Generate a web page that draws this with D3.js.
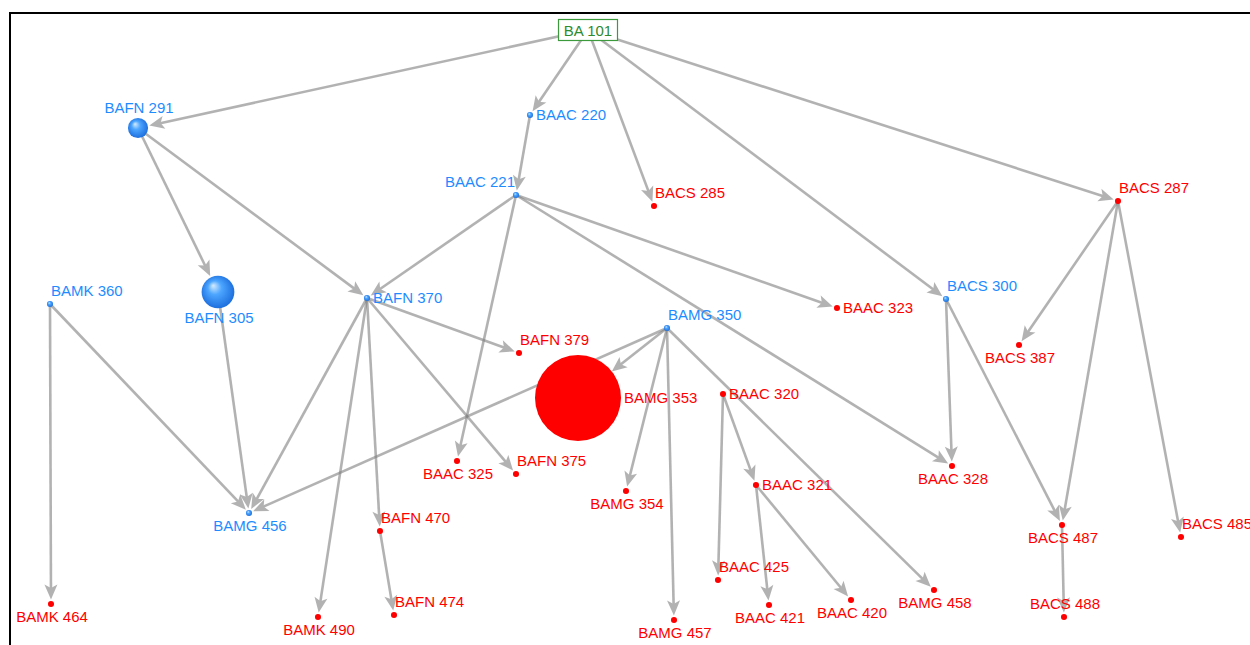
<!DOCTYPE html>
<html>
<head>
<meta charset="utf-8">
<script src="https://cdn.jsdelivr.net/npm/d3@7"></script>
<style>
  body { margin: 0; background: #fff; }
  svg { display: block; font-family: "Liberation Sans", Arial, sans-serif; }
</style>
</head>
<body>
<div id="chart"></div>
<script>
// node data: name, layout position, weight and status (blue = active, red = inactive)
var nodeNames = ["BA 101", "BAFN 291", "BAFN 305", "BAAC 220", "BAAC 221", "BACS 285", "BACS 287",
    "BAMK 360", "BAFN 370", "BACS 300", "BAMG 350", "BAAC 323", "BAFN 379", "BACS 387", "BAMG 353",
    "BAAC 320", "BAAC 325", "BAFN 375", "BAAC 321", "BAAC 328", "BAMG 354", "BAMG 456", "BAFN 470",
    "BACS 487", "BACS 485", "BAAC 425", "BAMK 464", "BAFN 474", "BAMK 490", "BAMG 457", "BAAC 421",
    "BAAC 420", "BAMG 458", "BACS 488"];
var nodeX = [588, 138, 218, 530, 516, 654, 1118, 50, 367, 946, 667, 837, 519, 1019, 578,
    723, 457, 516, 756, 952, 626, 249, 380, 1062, 1181, 718, 51, 394, 318, 674, 769,
    851, 934, 1064];
var nodeY = [30, 128, 292, 115, 195, 206, 201, 304, 298, 299, 328, 308, 353, 345, 398,
    394, 461, 474, 485, 466, 491, 513, 531, 525, 537, 580, 604, 615, 617, 620, 605,
    600, 590, 617];
var nodeWeight = [0, 11, 29, 1, 1, 1, 1, 1, 1, 1, 1, 1, 1, 1, 200,
    1, 1, 1, 1, 1, 1, 1, 1, 1, 1, 1, 1, 1, 1, 1, 1,
    1, 1, 1];
var nodeStatus = ["root", "blue", "blue", "blue", "blue", "red", "red", "blue", "blue", "blue", "blue", "red", "red", "red", "red",
    "red", "red", "red", "red", "red", "red", "blue", "red", "red", "red", "red", "red", "red", "red", "red", "red",
    "red", "red", "red"];
var labelSide = ["c", "a", "b", "r", "al", "ar", "ar", "ar", "r", "ar", "ar", "r", "ar", "b", "r",
    "r", "b", "ar", "r", "b", "b", "b", "ar", "b", "ar", "ar", "b", "ar", "b", "b", "b",
    "b", "b", "a"];

// prerequisite links: source -> target
var linkSource = ["BA 101", "BA 101", "BA 101", "BA 101", "BA 101", "BAFN 291", "BAFN 291", "BAAC 220",
    "BAAC 221", "BAAC 221", "BAAC 221", "BAAC 221", "BAFN 305", "BAMK 360", "BAMK 360", "BAFN 370",
    "BAFN 370", "BAFN 370", "BAFN 370", "BAFN 370", "BAFN 470", "BAMG 350", "BAMG 350", "BAMG 350",
    "BAMG 350", "BAMG 350", "BAAC 320", "BAAC 320", "BAAC 321", "BAAC 321", "BACS 300", "BACS 300",
    "BACS 287", "BACS 287", "BACS 287", "BACS 487"];
var linkTarget = ["BAFN 291", "BAAC 220", "BACS 285", "BACS 300", "BACS 287", "BAFN 305", "BAFN 370", "BAAC 221",
    "BAFN 370", "BAAC 325", "BAAC 323", "BAAC 328", "BAMG 456", "BAMG 456", "BAMK 464", "BAFN 379",
    "BAFN 375", "BAMG 456", "BAMK 490", "BAFN 470", "BAFN 474", "BAMG 353", "BAMG 456", "BAMG 354",
    "BAMG 457", "BAMG 458", "BAAC 321", "BAAC 425", "BAAC 421", "BAAC 420", "BAAC 328", "BACS 487",
    "BACS 387", "BACS 487", "BACS 485", "BACS 488"];

var width = 1250;
var height = 645;

var x = d3.scaleLinear().domain([0, 1250]).range([0, width]);
var y = d3.scaleLinear().domain([0, 645]).range([0, height]);
var r = d3.scaleSqrt().domain([0, 200]).range([0, 43]);

var nodes = nodeNames.map(function (name, i) {
    return {
        name: name, x: x(nodeX[i]), y: y(nodeY[i]),
        r: nodeWeight[i] ? Math.max(3, r(nodeWeight[i])) : 0,
        status: nodeStatus[i], side: labelSide[i]
    };
});
var byName = {};
nodes.forEach(function (d) { byName[d.name] = d; });
var links = linkSource.map(function (s, i) {
    return { source: byName[s], target: byName[linkTarget[i]] };
});

var svg = d3.select('#chart')
    .append('svg')
    .attr('width', width)
    .attr('height', height);

var defs = svg.append('defs');
var grad = defs.append('radialGradient')
    .attr('id', 'sphere')
    .attr('cx', '50%').attr('cy', '50%').attr('r', '60%')
    .attr('fx', '35%').attr('fy', '30%');
grad.append('stop').attr('offset', '0%').attr('stop-color', '#d6ecff');
grad.append('stop').attr('offset', '35%').attr('stop-color', '#4da6ff');
grad.append('stop').attr('offset', '100%').attr('stop-color', '#1262d6');

// frame
svg.append('rect')
    .attr('x', 10).attr('y', 13)
    .attr('width', 1300).attr('height', 700)
    .attr('fill', 'none')
    .attr('stroke', '#000')
    .attr('stroke-width', 2);

// links
var arrowLen = 15, arrowHalf = 6.5;
var linkG = svg.append('g');
links.forEach(function (l) {
    var s = l.source, t = l.target;
    var dx = t.x - s.x, dy = t.y - s.y;
    var len = Math.sqrt(dx * dx + dy * dy);
    var ux = dx / len, uy = dy / len;
    var gap = t.r + (t.r > 20 ? 0 : 1.5);
    var tipX = t.x - ux * gap, tipY = t.y - uy * gap;
    var angle = Math.atan2(dy, dx) * 180 / Math.PI;
    var g = linkG.append('g').attr('opacity', 0.6);
    g.append('line')
        .attr('x1', s.x).attr('y1', s.y)
        .attr('x2', tipX - ux * 10).attr('y2', tipY - uy * 10)
        .attr('stroke', '#808080')
        .attr('stroke-width', 2.6);
    g.append('path')
        .attr('d', 'M0,0 L' + (-arrowLen) + ',' + (-arrowHalf) + ' L' + (-arrowLen + 3.5) + ',0 L' + (-arrowLen) + ',' + arrowHalf + ' Z')
        .attr('transform', 'translate(' + tipX + ',' + tipY + ') rotate(' + angle + ')')
        .attr('fill', '#808080');
});

// nodes
var nodeG = svg.append('g')
    .selectAll('g')
    .data(nodes.filter(function (d) { return d.status !== 'root'; }))
    .enter()
    .append('g');

nodeG.append('circle')
    .attr('cx', function (d) { return d.x; })
    .attr('cy', function (d) { return d.y; })
    .attr('r', function (d) { return d.status === 'blue' && d.r === 3 ? 2.6 : d.r; })
    .attr('fill', function (d) { return d.status === 'blue' ? 'url(#sphere)' : '#ff0000'; });

function labelPos(d) {
    switch (d.side) {
        case 'r': return { x: d.x + d.r + 3, y: d.y + 5, anchor: 'start' };
        case 'ar': return { x: d.x + 1, y: d.y - d.r - 5, anchor: 'start' };
        case 'al': return { x: d.x - 1, y: d.y - 8, anchor: 'end' };
        case 'a': return { x: d.x + 1, y: d.y - d.r - 5, anchor: 'middle' };
        default: return { x: d.x + 1, y: d.y + d.r + 15, anchor: 'middle' };
    }
}

nodeG.append('text')
    .each(function (d) {
        var p = labelPos(d);
        d3.select(this)
            .attr('x', p.x).attr('y', p.y)
            .attr('text-anchor', p.anchor);
    })
    .attr('font-size', 15)
    .attr('fill', function (d) { return d.status === 'blue' ? '#1e8cff' : '#ff0000'; })
    .text(function (d) { return d.name; });

// root box
var root = byName['BA 101'];
var rootG = svg.append('g');
rootG.append('rect')
    .attr('x', root.x - 29.5).attr('y', root.y - 10.5)
    .attr('width', 59).attr('height', 21)
    .attr('fill', '#fff')
    .attr('stroke', '#3c9a3c')
    .attr('stroke-width', 1.2);
rootG.append('text')
    .attr('x', root.x).attr('y', root.y + 5.5)
    .attr('text-anchor', 'middle')
    .attr('font-size', 15)
    .attr('fill', '#2e8b2e')
    .text(root.name);
</script>
</body>
</html>
